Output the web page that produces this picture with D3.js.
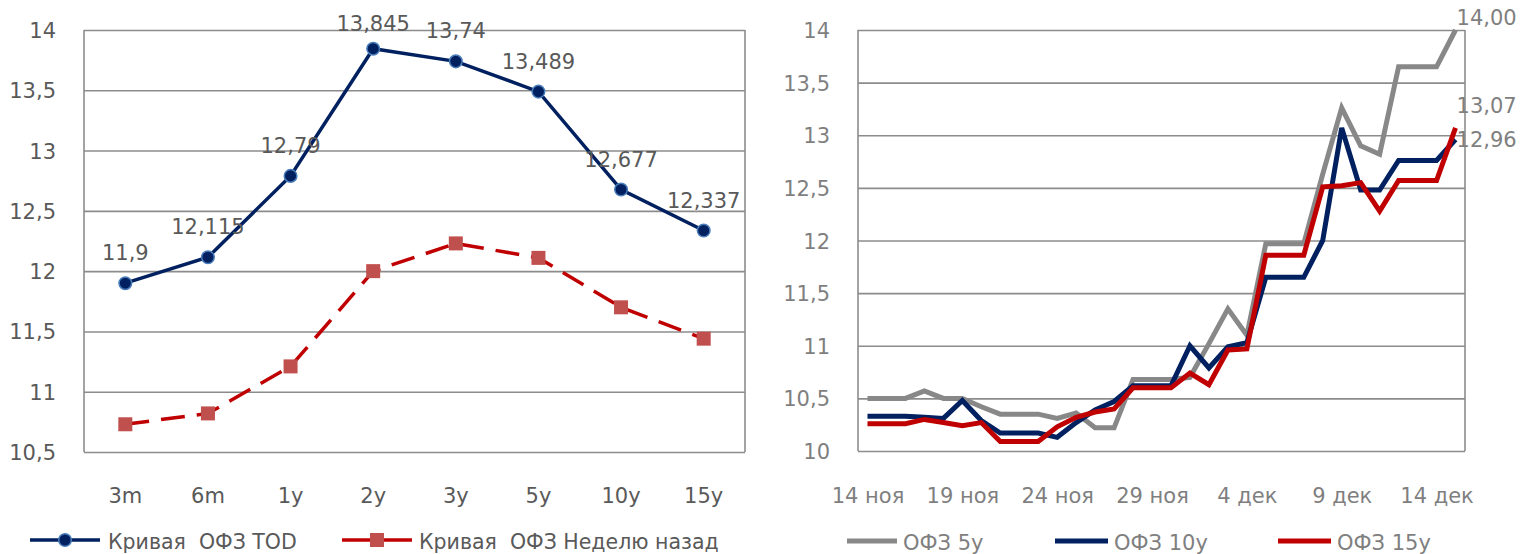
<!DOCTYPE html>
<html><head><meta charset="utf-8">
<script src="https://cdn.jsdelivr.net/npm/d3@7"></script>
<style>
html,body{margin:0;padding:0;background:#fff;overflow:hidden;}
svg text{font-family:"DejaVu Sans",sans-serif;}
</style></head><body>
<svg id="c" width="1531" height="554"></svg>
<script>
// ---------- DATA: left chart (yield curve) ----------
const tenors = ["3m","6m","1y","2y","3y","5y","10y","15y"];
const curveToday = [11.9, 12.115, 12.79, 13.845, 13.74, 13.489, 12.677, 12.337];
const curveWeekAgo = [10.73, 10.82, 11.21, 12.0, 12.23, 12.11, 11.70, 11.44];
const leftTicks = [10.5, 11, 11.5, 12, 12.5, 13, 13.5, 14];
const leftSeriesNames = ["Кривая  ОФЗ TOD", "Кривая  ОФЗ Неделю назад"];

// ---------- DATA: right chart (daily yields) ----------
const days = ["14 ноя","15 ноя","16 ноя","17 ноя","18 ноя","19 ноя","20 ноя","21 ноя","22 ноя","23 ноя",
  "24 ноя","25 ноя","26 ноя","27 ноя","28 ноя","29 ноя","30 ноя","1 дек","2 дек","3 дек","4 дек",
  "5 дек","6 дек","7 дек","8 дек","9 дек","10 дек","11 дек","12 дек","13 дек","14 дек","15 дек"];
const ofz5 = [10.50,10.50,10.50,10.57,10.50,10.50,10.42,10.35,10.35,10.35,10.31,10.36,10.22,10.22,10.68,10.68,
  10.68,10.70,11.02,11.35,11.10,11.97,11.97,11.97,12.63,13.26,12.90,12.82,13.65,13.65,13.65,14.00];
const ofz10 = [10.33,10.33,10.33,10.32,10.31,10.48,10.29,10.17,10.17,10.17,10.13,10.27,10.39,10.47,10.62,10.62,
  10.62,11.00,10.79,10.99,11.03,11.65,11.65,11.65,12.00,13.07,12.48,12.48,12.76,12.76,12.76,12.96];
const ofz15 = [10.26,10.26,10.26,10.30,10.27,10.24,10.27,10.09,10.09,10.09,10.23,10.32,10.37,10.40,10.60,10.60,
  10.60,10.74,10.63,10.96,10.97,11.86,11.86,11.86,12.51,12.52,12.55,12.28,12.57,12.57,12.57,13.07];
const rightTicks = [10, 10.5, 11, 11.5, 12, 12.5, 13, 13.5, 14];
const rightTickDays = [0, 5, 10, 15, 20, 25, 30];
const rightSeriesNames = ["ОФЗ 5y", "ОФЗ 10y", "ОФЗ 15y"];

// ---------- STYLE ----------
const FS = 21;
const gridColor = "#8c8c8c";
const navy = "#002060", red = "#C00000", redMarker = "#C0504D", gray = "#888888";
const textDark = "#595959", textGray = "#7f7f7f";

const svg = d3.select("#c");

function gridAxis(g, scale, ticks, width, color, fmt) {
  const ax = d3.axisLeft(scale).tickValues(ticks).tickSize(-width).tickSizeOuter(0)
    .tickPadding(28).tickFormat(fmt);
  g.call(ax);
  g.select(".domain").remove();
  g.selectAll(".tick line").attr("stroke", gridColor).attr("stroke-width", 1.6);
  g.selectAll(".tick text").attr("fill", color).attr("font-size", FS)
    .attr("font-family", '"DejaVu Sans",sans-serif').attr("dy", "0.36em");
}
const commaFmt = d => String(d).replace(".", ",");

// ================= LEFT CHART =================
const L = {x0: 84, x1: 745, y0: 30, y1: 452};
const xL = d3.scaleBand().domain(tenors).range([L.x0, L.x1]);
const yL = d3.scaleLinear().domain([10.5, 14]).range([L.y1, L.y0]);
const cx = d => xL(d) + xL.bandwidth() / 2;

const gL = svg.append("g");
gL.append("g").attr("transform", `translate(${L.x0},0)`)
  .call(g => gridAxis(g, yL, leftTicks, L.x1 - L.x0, textDark, commaFmt));
gL.append("line").attr("x1", L.x0).attr("x2", L.x0).attr("y1", L.y0).attr("y2", L.y1)
  .attr("stroke", gridColor).attr("stroke-width", 1.6);
gL.append("line").attr("x1", L.x1).attr("x2", L.x1).attr("y1", L.y0).attr("y2", L.y1)
  .attr("stroke", gridColor).attr("stroke-width", 1.6);

const xAxL = gL.append("g").attr("transform", `translate(0,${L.y1})`)
  .call(d3.axisBottom(xL).tickSize(0).tickPadding(36));
xAxL.select(".domain").remove();
xAxL.selectAll(".tick text").attr("fill", textDark).attr("font-size", FS)
  .attr("font-family", '"DejaVu Sans",sans-serif');

// week-ago dashed line
const lineL = d3.line().x((d, i) => cx(tenors[i])).y(d => yL(d));
gL.append("path").datum(curveWeekAgo).attr("d", lineL).attr("fill", "none")
  .attr("stroke", red).attr("stroke-width", 3.5).attr("stroke-dasharray", "24,12");
gL.selectAll(".sq").data(curveWeekAgo).join("rect")
  .attr("x", (d, i) => cx(tenors[i]) - 7).attr("y", d => yL(d) - 7)
  .attr("width", 14).attr("height", 14).attr("fill", redMarker);

// today solid line
gL.append("path").datum(curveToday).attr("d", lineL).attr("fill", "none")
  .attr("stroke", navy).attr("stroke-width", 3.5);
gL.selectAll(".dot").data(curveToday).join("circle")
  .attr("cx", (d, i) => cx(tenors[i])).attr("cy", d => yL(d)).attr("r", 6.3)
  .attr("fill", navy).attr("stroke", "#4a7ebb").attr("stroke-width", 1.5);
gL.selectAll(".lbl").data(curveToday).join("text")
  .attr("x", (d, i) => cx(tenors[i])).attr("y", d => Math.max(yL(d) - 23, 31))
  .attr("text-anchor", "middle").attr("fill", textDark).attr("font-size", FS)
  .text(commaFmt);

// left legend
const lgL = svg.append("g");
lgL.append("line").attr("x1", 30).attr("x2", 100).attr("y1", 540).attr("y2", 540)
  .attr("stroke", navy).attr("stroke-width", 3.5);
lgL.append("circle").attr("cx", 65).attr("cy", 540).attr("r", 6.3)
  .attr("fill", navy).attr("stroke", "#4a7ebb").attr("stroke-width", 1.5);
lgL.append("text").attr("x", 108).attr("y", 549).attr("font-size", 20.5).attr("fill", textDark)
  .style("white-space", "pre").text(leftSeriesNames[0]);
lgL.append("line").attr("x1", 342).attr("x2", 412).attr("y1", 540).attr("y2", 540)
  .attr("stroke", red).attr("stroke-width", 3.5);
lgL.append("rect").attr("x", 370).attr("y", 533).attr("width", 14).attr("height", 14)
  .attr("fill", redMarker);
lgL.append("text").attr("x", 419).attr("y", 549).attr("font-size", 20.5).attr("fill", textDark)
  .style("white-space", "pre").text(leftSeriesNames[1]);

// ================= RIGHT CHART =================
const R = {x0: 858, x1: 1465, y0: 30, y1: 451};
const xR = d3.scaleLinear().domain([-0.5, days.length - 0.5]).range([R.x0, R.x1]);
const yR = d3.scaleLinear().domain([10, 14]).range([R.y1, R.y0]);

const gR = svg.append("g");
gR.append("g").attr("transform", `translate(${R.x0},0)`)
  .call(g => gridAxis(g, yR, rightTicks, R.x1 - R.x0, textGray, commaFmt));
gR.append("line").attr("x1", R.x0).attr("x2", R.x0).attr("y1", R.y0).attr("y2", R.y1)
  .attr("stroke", gridColor).attr("stroke-width", 1.6);
gR.append("line").attr("x1", R.x1).attr("x2", R.x1).attr("y1", R.y0).attr("y2", R.y1)
  .attr("stroke", gridColor).attr("stroke-width", 1.6);

const xAxR = gR.append("g").attr("transform", `translate(0,${R.y1})`)
  .call(d3.axisBottom(xR).tickValues(rightTickDays).tickSize(0).tickPadding(37)
    .tickFormat(i => days[i]));
xAxR.select(".domain").remove();
xAxR.selectAll(".tick text").attr("fill", textGray).attr("font-size", FS)
  .attr("font-family", '"DejaVu Sans",sans-serif');

const lineR = d3.line().x((d, i) => xR(i)).y(d => yR(d));
const seriesR = [
  {vals: ofz5, color: gray, dy: -13},
  {vals: ofz10, color: navy, dy: 0},
  {vals: ofz15, color: red, dy: -22}
];
seriesR.forEach(s => {
  gR.append("path").datum(s.vals).attr("d", lineR).attr("fill", "none")
    .attr("stroke", s.color).attr("stroke-width", 5).attr("stroke-linejoin", "miter");
});
seriesR.forEach(s => {
  const n = s.vals.length - 1;
  gR.append("text").attr("x", xR(n) + 1).attr("y", yR(s.vals[n]) + s.dy)
    .attr("dy", "0.36em").attr("fill", textGray).attr("font-size", FS)
    .text(d3.format(".2f")(s.vals[n]).replace(".", ","));
});

// right legend
const lgR = svg.append("g");
const lgPos = [{x1: 847, x2: 897, tx: 903}, {x1: 1055, x2: 1108, tx: 1114}, {x1: 1278, x2: 1331, tx: 1337}];
seriesR.forEach((s, i) => {
  lgR.append("line").attr("x1", lgPos[i].x1).attr("x2", lgPos[i].x2).attr("y1", 541).attr("y2", 541)
    .attr("stroke", s.color).attr("stroke-width", 5);
  lgR.append("text").attr("x", lgPos[i].tx).attr("y", 550).attr("font-size", FS).attr("fill", textGray)
    .text(rightSeriesNames[i]);
});
</script>
</body></html>
